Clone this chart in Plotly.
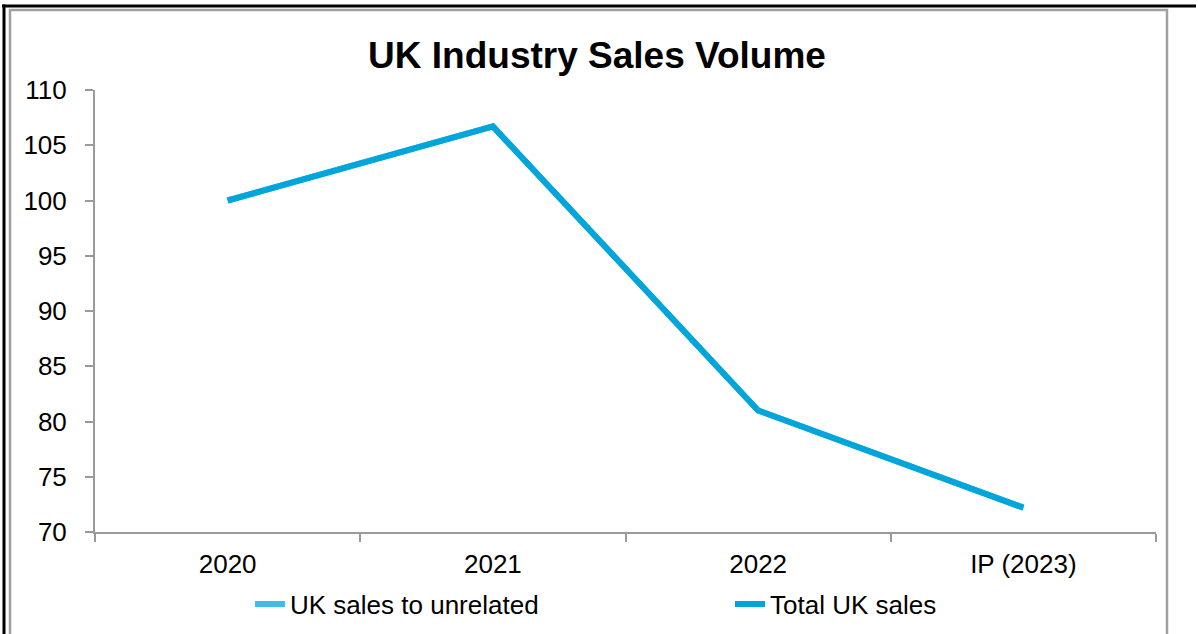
import plotly.graph_objects as go

categories = ["2020", "2021", "2022", "IP (2023)"]
uk_sales_unrelated = [100.0, 106.7, 81.0, 72.2]
total_uk_sales = [100.0, 106.7, 81.0, 72.2]
y_ticks = [70, 75, 80, 85, 90, 95, 100, 105, 110]

W, H = 1198, 634
L, R, T, B = 95, 1156, 90, 532

def px_x(px):
    return (px - L) / (R - L)

def px_y(py):
    return (B - py) / (B - T)

fig = go.Figure()
fig.add_trace(go.Scatter(x=categories, y=uk_sales_unrelated, mode="lines",
                         name="UK sales to unrelated", legendwidth=435,
                         line=dict(color="#3FBDE6", width=6)))
fig.add_trace(go.Scatter(x=categories, y=total_uk_sales, mode="lines",
                         name="Total UK sales", legendwidth=240,
                         line=dict(color="#00A5DA", width=6)))

font = "Liberation Sans, Arial, sans-serif"
axis_gray = "#9A9A9A"

fig.update_layout(
    width=W, height=H,
    margin=dict(l=L, r=W - R, t=T, b=H - B, autoexpand=False),
    paper_bgcolor="white", plot_bgcolor="white",
    font=dict(family=font, size=26, color="black"),
    title=dict(text="<b>UK Industry Sales Volume</b>", x=597 / W, xref="container",
               xanchor="center", y=1 - 55 / H, yanchor="middle",
               font=dict(family=font, size=37, color="black")),
    showlegend=True,
    legend=dict(orientation="h", x=px_x(250), y=px_y(604), xanchor="left",
                yanchor="middle",
                font=dict(family=font, size=26, color="black"),
                bgcolor="rgba(0,0,0,0)"),
    xaxis=dict(range=[-0.5, 3.5], showline=True, linecolor=axis_gray, linewidth=2,
               ticks="outside", tickson="boundaries", ticklen=8, tickcolor=axis_gray,
               tickwidth=2, showgrid=False, zeroline=False, ticklabelstandoff=8,
               tickfont=dict(family=font, size=26, color="black")),
    yaxis=dict(range=[70, 110], tickvals=y_ticks, showline=True, linecolor=axis_gray,
               linewidth=2, ticks="outside", ticklen=8, tickcolor=axis_gray, tickwidth=2,
               showgrid=False, zeroline=False, ticklabelstandoff=13,
               tickfont=dict(family=font, size=26, color="black")),
)

shapes = [
    dict(type="rect", xref="paper", yref="paper", x0=px_x(10), x1=px_x(1167),
         y0=px_y(660), y1=px_y(10), line=dict(color="#A0A0A0", width=2.5),
         fillcolor="rgba(0,0,0,0)", layer="below"),
    dict(type="line", xref="paper", yref="paper", x0=px_x(2), x1=px_x(1196),
         y0=px_y(6), y1=px_y(6), line=dict(color="black", width=3)),
    dict(type="line", xref="paper", yref="paper", x0=px_x(4), x1=px_x(4),
         y0=px_y(4.5), y1=px_y(660), line=dict(color="black", width=3)),
]
fig.update_layout(shapes=shapes)

fig.write_html("out.html")
